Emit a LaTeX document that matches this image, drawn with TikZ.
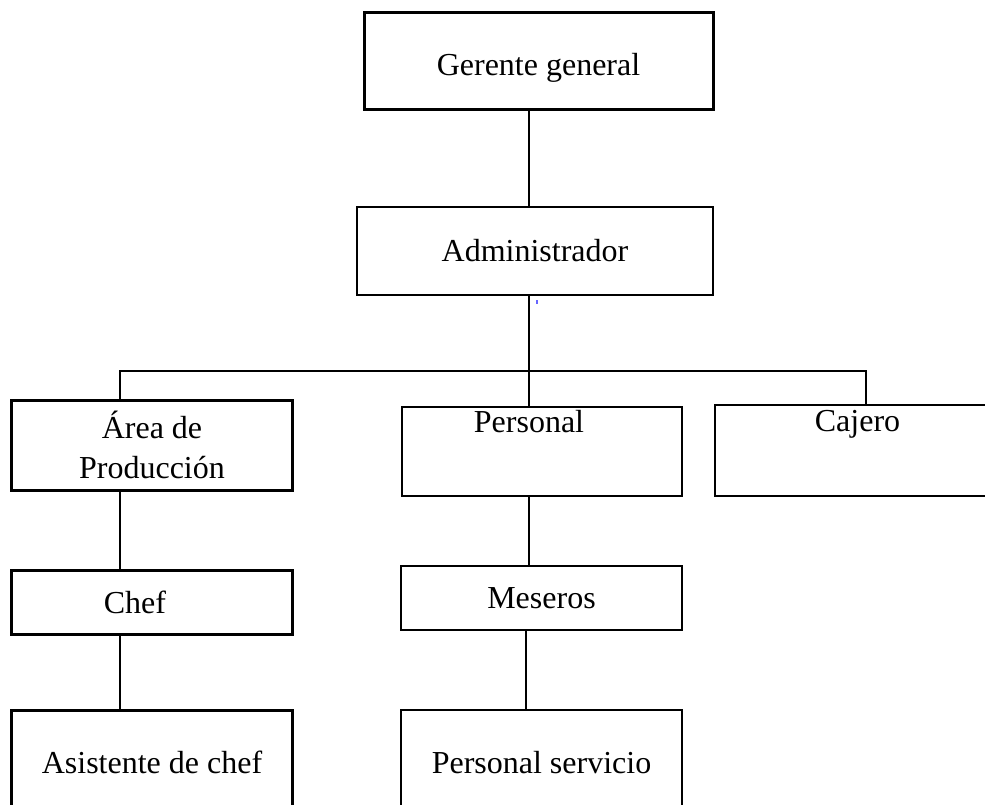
\documentclass[tikz,border=0pt]{standalone}
\usepackage{fontspec}
\setmainfont{Liberation Serif}
\usepackage{tikz}
\usetikzlibrary{positioning, calc}

\begin{document}
\begin{tikzpicture}[x=0.4pt, y=-0.4pt,
    box/.style={draw, rectangle, inner sep=0pt, align=center, font=\fontsize{12.8}{16}\selectfont},
    thickbox/.style={box, line width=1.2pt},
    thinbox/.style={box, line width=0.8pt},
    topbox/.style={text height=9pt, text depth=24pt},
    link/.style={line width=0.7pt}]
\useasboundingbox (0,0) rectangle (985,805);

% Levels
\node[thickbox, text height=14pt, minimum width=139.6pt, minimum height=38.8pt] (gerente) at (538.5,61.5) {Gerente general};
\node[thinbox, minimum width=142.4pt, minimum height=35.2pt] (admin) at (535,251) {Administrador};

\node[thickbox, minimum width=112pt, minimum height=36pt] (area) at (152,445) {Área de\\Producción};
\node[thinbox, topbox, minimum width=112pt, minimum height=35.6pt] (personal) at (542,451.5) {Personal\hspace*{10.4pt}};
\node[thinbox, topbox, minimum width=114pt, minimum height=36.4pt] (cajero) at (857.5,450.5) {Cajero};

\node[thickbox, minimum width=112pt, minimum height=25.6pt] (chef) at (152,602) {Chef\hspace*{13.6pt}};
\node[thinbox, minimum width=112.4pt, minimum height=25.6pt] (meseros) at (541.5,598) {Meseros};

\node[thickbox, minimum width=112pt, minimum height=42pt] (asistente) at (152,762.5) {Asistente de chef};
\node[thinbox, minimum width=112.4pt, minimum height=42pt] (servicio) at (541.5,762.5) {Personal servicio};

% Connector columns
\coordinate (lx) at (120,0);
\coordinate (tx) at (529,0);
\coordinate (rx) at (866,0);
\coordinate (sx) at (526,0);
\coordinate (bus) at (529,371);

% Connectors
\draw[link] (gerente.south -| tx) -- (admin.north -| tx);
\draw[link] (admin.south -| tx) -- (bus);
\draw[link] (area.north -| lx) -- (lx |- bus) -- (rx |- bus) -- (cajero.north -| rx);
\draw[link] (bus) -- (personal.north -| tx);
\draw[link] (area.south -| lx) -- (chef.north -| lx);
\draw[link] (chef.south -| lx) -- (asistente.north -| lx);
\draw[link] (personal.south -| tx) -- (meseros.north -| tx);
\draw[link] (meseros.south -| sx) -- (servicio.north -| sx);

% stray mark
\draw[blue!60, line width=0.8pt] (537,300) -- (537,304);
\end{tikzpicture}
\end{document}
